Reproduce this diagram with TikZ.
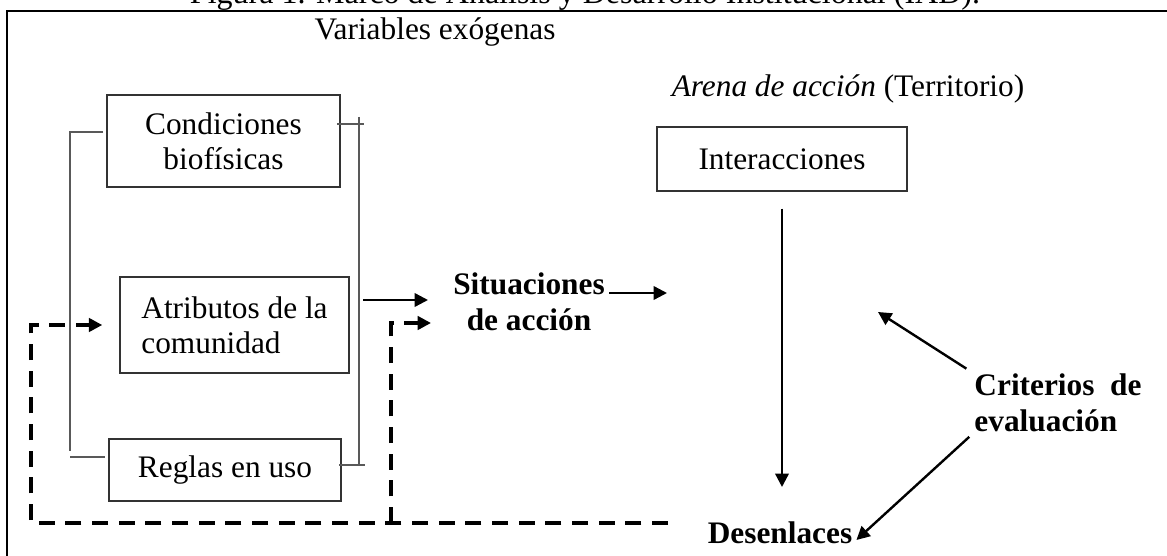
\documentclass[tikz,border=0pt]{standalone}
\usepackage{fontspec}
\setmainfont{Liberation Serif}
\usetikzlibrary{arrows.meta}

\tikzset{
  boxnode/.style={draw=black!80, line width=1.1pt, inner sep=0pt, font=\fontsize{23.5}{26}\selectfont},
  txtnode/.style={inner sep=0pt, font=\fontsize{23.5}{26}\selectfont},
  boldnode/.style={inner sep=0pt, font=\fontsize{23.5}{27}\selectfont\bfseries},
  brack/.style={draw=black!65, line width=0.9pt},
  arr/.style={line width=1.8pt, -{Triangle[length=10pt,width=10pt]}},
  dasharr/.style={line width=2.8pt, dash pattern=on 12pt off 8pt, -{Triangle[length=10pt,width=10pt]}},
}

\begin{document}
\begin{tikzpicture}[x=0.75pt,y=0.75pt,yscale=-1,xscale=1]
\useasboundingbox (0,0) rectangle (1167,556);

% Title, cut by the page edge
\node[txtnode, font=\fontsize{24}{26}\selectfont, anchor=base] (title) at (585,4) {Figura 1. Marco de Análisis y Desarrollo Institucional (IAD).};
%Frame
\draw[line width=1.2pt] (1170,11) -- (7,11) -- (7,560);

% Text Node
\node[txtnode, anchor=base] (exo) at (435,40) {Variables exógenas};
% Text Node
\node[txtnode, anchor=base] (arena) at (848,97) {\textit{Arena de acción} (Territorio)};

% Boxes
\node[boxnode, minimum width=174.75pt, minimum height=69pt, align=center] (cond) at (223.5,141) {Condiciones\\biofísicas};
\node[boxnode, minimum width=171.75pt, minimum height=72pt, align=left] (attr) at (234.5,325) {Atributos de la\\comunidad};
\node[boxnode, minimum width=174pt, minimum height=46.5pt] (regl) at (225,470) {Reglas en uso};
\node[boxnode, minimum width=187.5pt, minimum height=48pt] (inter) at (782,159) {Interacciones};

% Bold Text Node
\node[boldnode, align=center] (sit) at (529,302) {Situaciones\\de acción};
% Bold Text Node
\node[boldnode, anchor=base] (des) at (780,543) {Desenlaces};
% Bold Text Node
\node[boldnode, align=left] (crit) at (1058,403) {Criterios\ \ de\\evaluación};

%Brackets
\draw[brack] (103,132) -- (70,132) -- (70,451);
\draw[brack] (70,457) -- (105,457);
\draw[brack] (337,124) -- (364,124);
\draw[brack] (359,117) -- (359,465);
\draw[brack] (339,465) -- (365,465);

%Arrows
\coordinate (vout) at (363,300);
\coordinate (arenain) at (667,293);
\coordinate (evalup) at (878,312);
\draw[arr, shorten >=18.75pt] (vout) -- (vout -| sit.west);
\draw[arr, shorten <=3pt] (sit.east |- arenain) -- (arenain);
\draw[arr, shorten <=12.75pt, shorten >=25.5pt] (inter.south) -- (inter.south |- des.north);
\draw[arr, shorten <=7pt] (crit.north west) -- (evalup);
\draw[arr, shorten <=5pt, shorten >=4pt] (crit.south west) -- (des.south east);

%Dashed feedback
\coordinate (fbend) at (668,523);
\coordinate (fleft) at (31,523);
\coordinate (fmid) at (391,523);
\draw[dasharr, shorten >=12.75pt] (fbend) -- (fleft) |- (attr.west);
\draw[dasharr, shorten >=16.5pt] (fmid) |- (sit.west |- 0,323);

\end{tikzpicture}
\end{document}
